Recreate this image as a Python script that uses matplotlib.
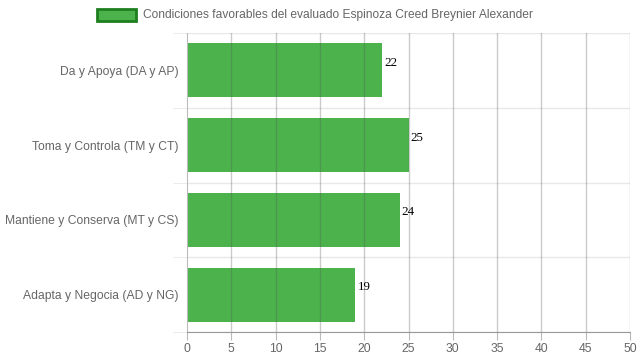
import matplotlib
matplotlib.use("Agg")
import matplotlib.pyplot as plt
from matplotlib.patches import Rectangle

categories = ["Da y Apoya (DA y AP)", "Toma y Controla (TM y CT)",
              "Mantiene y Conserva (MT y CS)", "Adapta y Negocia (AD y NG)"]
values = [22, 25, 24, 19]
legend_label = "Condiciones favorables del evaluado Espinoza Creed Breynier Alexander"
xticks = list(range(0, 51, 5))

plt.rcParams['font.family'] = ['Liberation Sans', 'DejaVu Sans']
fig = plt.figure(figsize=(6.39, 3.6), dpi=100)
ax = fig.add_axes([187/639, 1-332/360, (630-187)/639, (332-33)/360])

n = len(categories)
ypos = list(range(n))
ax.barh(ypos, values, height=0.72, color="#4cb34c", zorder=2)
ax.set_ylim(n-0.5, -0.5)
ax.set_xlim(0, 50)
ax.set_xticks(xticks)
ax.set_yticks(ypos)
ax.set_yticklabels(categories)
ax.tick_params(axis='both', colors='#666666', labelsize=8.7, length=0, pad=6)
ax.tick_params(axis='x', length=6, color='#bbbbbb', pad=2)

# vertical grid on top
for x in xticks[1:]:
    ax.axvline(x, color='#555555', alpha=0.3, lw=1, zorder=3)
# horizontal category boundaries
for b in [i - 0.5 for i in range(n+1)]:
    ax.plot([0, 50], [b, b], color='#e8e8e8', lw=1, zorder=1)
ax.set_yticks([i - 0.5 for i in range(n+1)], minor=True)
ax.tick_params(axis='y', which='minor', length=10, color='#e8e8e8')

for s in ['top', 'right']:
    ax.spines[s].set_visible(False)
ax.spines['left'].set_color('#bbbbbb')
ax.spines['bottom'].set_color('#999999')

for y, v in zip(ypos, values):
    ax.text(v + 0.25, y - 0.02, str(v), va='bottom', ha='left', fontsize=9.4,
            family=['Liberation Serif', 'DejaVu Serif'], color='black')

# legend
fig.patches.append(Rectangle((97/639, 1-21/360), 39/639, 12/360, transform=fig.transFigure,
                             facecolor='#4cb34c', edgecolor='#1f7f1f', lw=2))
fig.text(143/639, 1-15/360, legend_label, fontsize=8.65, color='#666666', va='center', ha='left')

fig.savefig("out.png", dpi=100)
